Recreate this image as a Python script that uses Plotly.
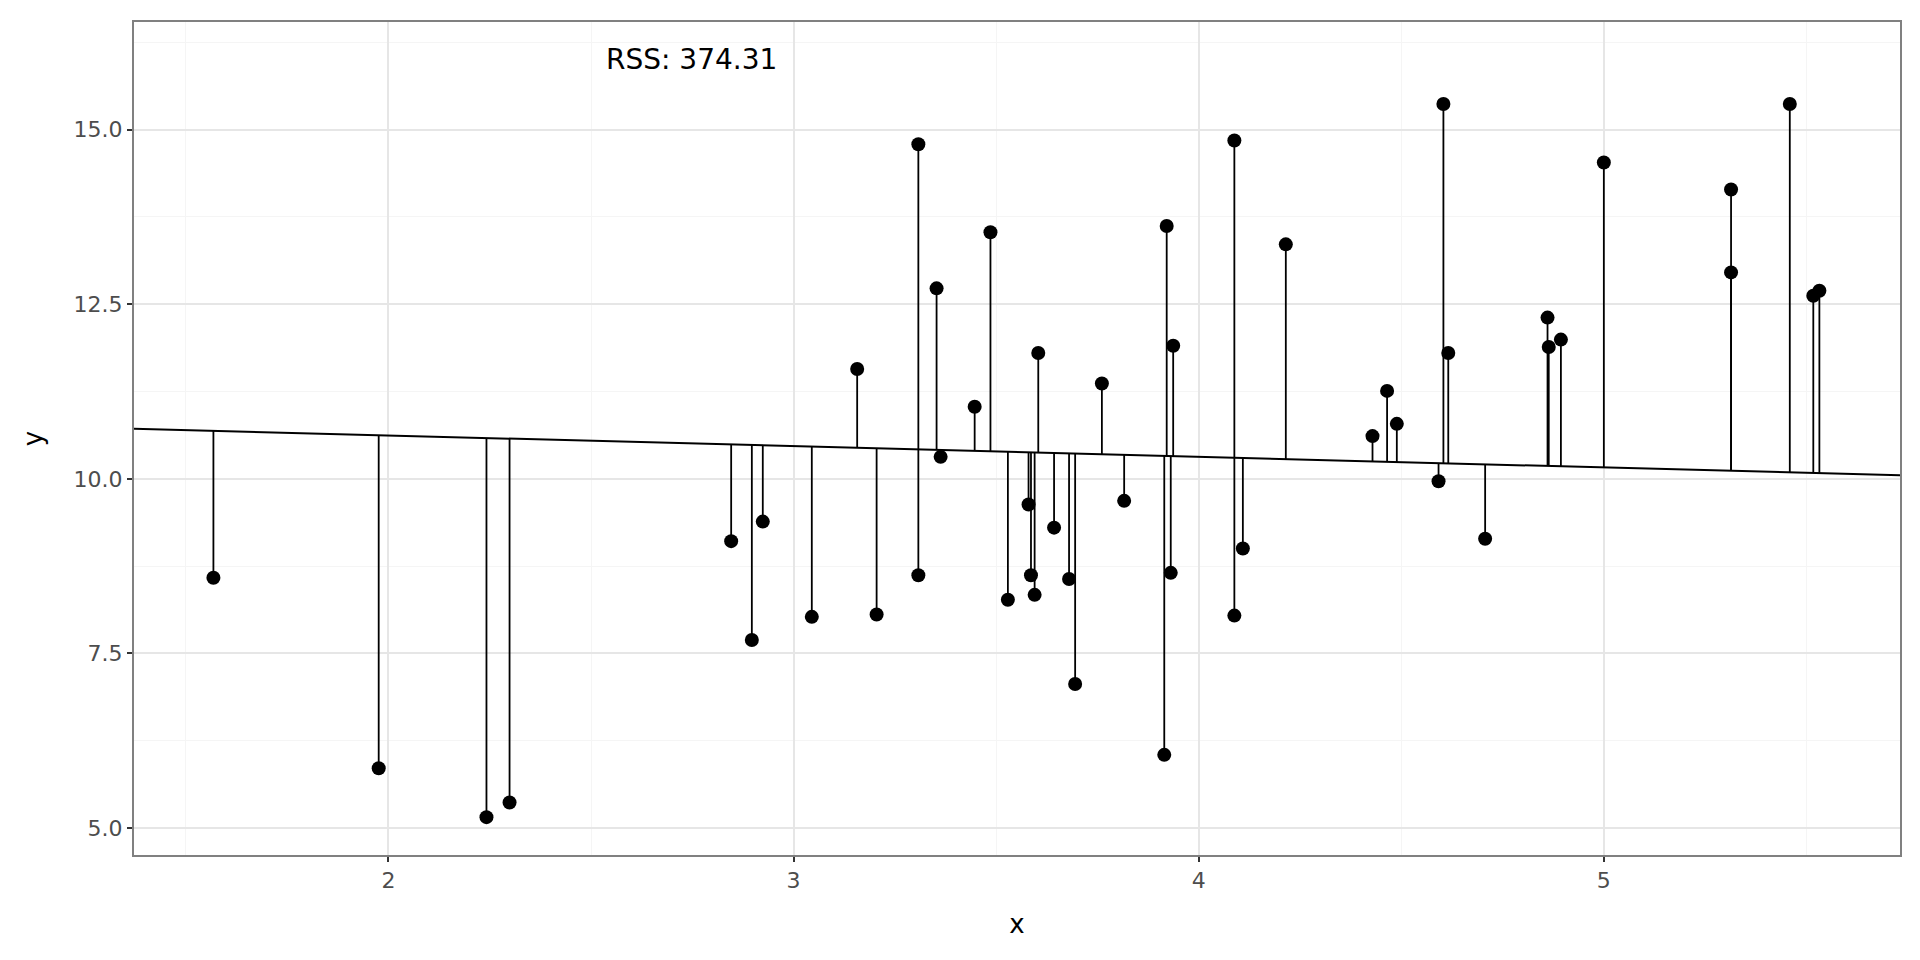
import plotly.graph_objects as go

# observed points
x = [1.568, 1.976, 2.242, 2.299, 2.846, 2.897, 2.924, 3.045, 3.157, 3.205,
     3.308, 3.308, 3.353, 3.363, 3.447, 3.486, 3.529, 3.580, 3.586, 3.595,
     3.604, 3.643, 3.680, 3.695, 3.761, 3.816, 3.915, 3.921, 3.931, 3.937,
     4.088, 4.088, 4.109, 4.215, 4.429, 4.465, 4.489, 4.592, 4.604, 4.616,
     4.707, 4.861, 4.864, 4.894, 5.000, 5.314, 5.314, 5.459, 5.517, 5.532]
y = [8.584, 5.857, 5.157, 5.367, 9.108, 7.692, 9.388, 8.024, 11.573, 8.059,
     14.790, 8.619, 12.727, 10.315, 11.031, 13.531, 8.269, 9.633, 8.619, 8.339,
     11.801, 9.301, 8.566, 7.063, 11.364, 9.685, 6.049, 13.619, 8.654, 11.906,
     8.042, 14.843, 9.003, 13.357, 10.612, 11.259, 10.787, 9.965, 15.367, 11.801,
     9.143, 12.308, 11.888, 11.993, 14.528, 14.143, 12.955, 15.367, 12.622, 12.692]

# candidate line
intercept = 10.926
slope = -0.1526
rss_label = "RSS: 374.31"

x_range = [1.372, 5.731]
y_range = [4.615, 16.54]

def line_at(v):
    return intercept + slope * v

# residual segments
seg_x, seg_y = [], []
for xi, yi in zip(x, y):
    seg_x += [xi, xi, None]
    seg_y += [yi, line_at(xi), None]

fig = go.Figure()
fig.add_trace(go.Scatter(
    x=x_range, y=[line_at(v) for v in x_range], mode="lines",
    line=dict(color="black", width=2), hoverinfo="skip"))
fig.add_trace(go.Scatter(
    x=seg_x, y=seg_y, mode="lines",
    line=dict(color="black", width=1.8), hoverinfo="skip"))
fig.add_trace(go.Scatter(
    x=x, y=y, mode="markers",
    marker=dict(color="black", size=14)))

fig.add_annotation(x=2.747, y=16.0, text=rss_label, showarrow=False,
                   font=dict(family="DejaVu Sans", size=28, color="black"))

axis_common = dict(
    showline=True, linecolor="#808080", linewidth=2, mirror=True,
    showgrid=True, gridcolor="#e6e6e6", gridwidth=2.2,
    ticks="outside", ticklen=5, tickcolor="#333333", tickwidth=1.8,
    tickfont=dict(family="DejaVu Sans", size=22, color="#4d4d4d"),
    zeroline=False,
)

fig.update_xaxes(
    range=x_range, tickvals=[2, 3, 4, 5], ticktext=["2", "3", "4", "5"],
    minor=dict(tickvals=[1.5, 2.5, 3.5, 4.5, 5.5], showgrid=True,
               gridcolor="#f5f5f5", gridwidth=1.2, ticks=""),
    title=dict(text="x", font=dict(family="DejaVu Sans", size=26, color="black"),
               standoff=22),
    **axis_common)
fig.update_yaxes(
    range=y_range, tickvals=[5, 7.5, 10, 12.5, 15],
    ticktext=["5.0", "7.5", "10.0", "12.5", "15.0"],
    minor=dict(tickvals=[6.25, 8.75, 11.25, 13.75, 16.25], showgrid=True,
               gridcolor="#f5f5f5", gridwidth=1.2, ticks=""),
    title=dict(text="y", font=dict(family="DejaVu Sans", size=26, color="black"),
               standoff=24),
    **axis_common)

fig.update_layout(
    width=1920, height=960,
    paper_bgcolor="white", plot_bgcolor="white",
    showlegend=False,
    margin=dict(l=126, r=28, t=12, b=113),
    font=dict(family="DejaVu Sans"),
)

fig.write_html("out.html")
